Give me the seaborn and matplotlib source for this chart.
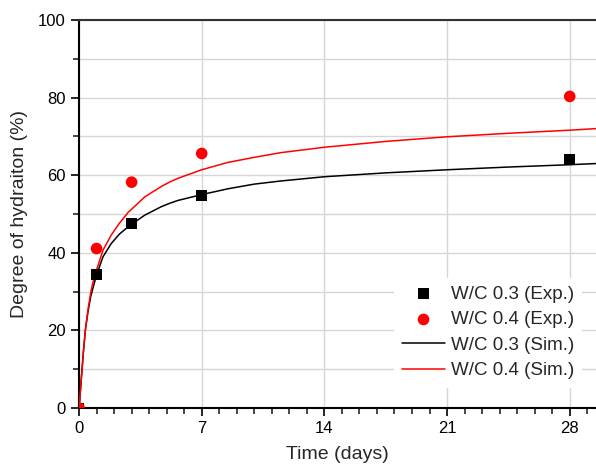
import numpy as np
import pandas as pd
import matplotlib
matplotlib.use('Agg')
import matplotlib.pyplot as plt
import seaborn as sns
from matplotlib.ticker import MultipleLocator

# experimental points
exp_days = [0, 1, 3, 7, 28]
exp_wc03 = [0, 34.4, 47.5, 54.8, 64.1]
exp_wc04 = [0, 41.1, 58.2, 65.6, 80.3]

# simulated curves
sim_days = [0.03, 0.13, 0.25, 0.36, 0.5, 0.67, 0.8, 1, 1.37, 1.84, 2.3, 2.8, 3.75, 4.7,
            5.2, 5.65, 7, 8.5, 10, 11.5, 14, 17.5, 21, 24.5, 28, 29.5]
sim_wc03 = [1.5, 7.5, 14.5, 20.0, 24.5, 28.8, 31.0, 34.3, 39.0, 42.4, 44.8, 46.7, 49.7, 51.9,
            52.8, 53.5, 55.0, 56.5, 57.7, 58.5, 59.6, 60.6, 61.4, 62.1, 62.7, 63.0]
sim_wc04 = [1.5, 7.5, 14.5, 20.0, 25.0, 29.8, 32.5, 35.6, 40.7, 44.6, 47.6, 50.4, 54.4, 57.1,
            58.3, 59.2, 61.4, 63.3, 64.6, 65.8, 67.2, 68.7, 69.9, 70.8, 71.6, 72.0]

sns.set_style('white')
plt.rcParams['font.family'] = ['Liberation Sans', 'DejaVu Sans']

fig = plt.figure(figsize=(5.96, 4.68), dpi=100)
ax = fig.add_axes([0.1326, 0.1282, 0.8674, 0.8291])

sim = pd.DataFrame({'day': sim_days, 'a': sim_wc03, 'b': sim_wc04})
exp = pd.DataFrame({'day': exp_days, 'a': exp_wc03, 'b': exp_wc04})

sns.scatterplot(data=exp, x='day', y='a', ax=ax, marker='s', color='black', s=60,
                edgecolor='none', label='W/C 0.3 (Exp.)', zorder=4)
sns.scatterplot(data=exp, x='day', y='b', ax=ax, marker='o', color='#ff0000', s=70,
                edgecolor='none', label='W/C 0.4 (Exp.)', zorder=5)
sns.lineplot(data=sim, x='day', y='a', ax=ax, color='black', linewidth=1.1,
             label='W/C 0.3 (Sim.)', zorder=3)
sns.lineplot(data=sim, x='day', y='b', ax=ax, color='#ff0000', linewidth=1.1,
             label='W/C 0.4 (Sim.)', zorder=3)

ax.set_xlim(0, 29.5)
ax.set_ylim(0, 100)
ax.xaxis.set_major_locator(MultipleLocator(7))
ax.xaxis.set_minor_locator(MultipleLocator(1))
ax.yaxis.set_major_locator(MultipleLocator(20))
ax.yaxis.set_minor_locator(MultipleLocator(10))

ax.grid(True, which='major', axis='x', color='#d6d6d6', linewidth=1)
ax.grid(True, which='both', axis='y', color='#d6d6d6', linewidth=1)
ax.set_axisbelow(True)

ax.tick_params(which='major', direction='out', length=6, width=1.2, labelsize=12, colors='black')
ax.tick_params(which='minor', direction='out', length=4, width=1.2)
ax.tick_params(axis='both', which='both', bottom=True, left=True, top=False, right=False)

for side in ['left', 'bottom']:
    ax.spines[side].set_linewidth(1.5)
    ax.spines[side].set_color('black')
ax.spines['top'].set_linewidth(1.5)
ax.spines['top'].set_color('#333333')
ax.spines['right'].set_visible(False)

ax.set_xlabel('Time (days)', fontsize=14, labelpad=7)
ax.set_ylabel('Degree of hydraiton (%)', fontsize=14, labelpad=7)

leg = ax.legend(loc='lower right', bbox_to_anchor=(0.99, 0.03), fontsize=13.5,
                frameon=True, facecolor='white', edgecolor='white', framealpha=1,
                fancybox=False, handlelength=2.3, handletextpad=0.3,
                labelspacing=0.45, borderpad=0.4)

fig.savefig('out.png', dpi=100)
